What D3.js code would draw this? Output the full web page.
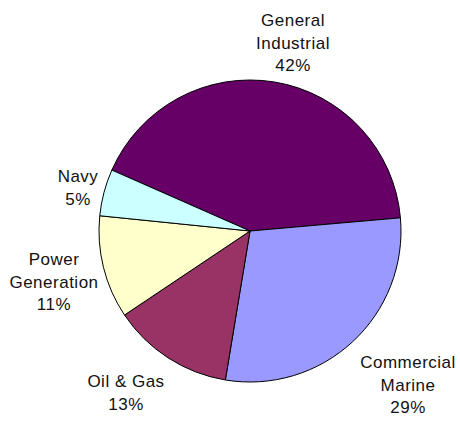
<!DOCTYPE html>
<html>
<head>
<meta charset="utf-8">
<script src="https://cdn.jsdelivr.net/npm/d3@7"></script>
<style>
  html, body { margin: 0; padding: 0; background: #ffffff; }
  svg { display: block; }
  text { font-family: "Liberation Sans", Arial, sans-serif; font-size: 17px; fill: #111; letter-spacing: 0.5px; }
</style>
</head>
<body>
<svg id="chart" width="460" height="423"></svg>
<script>
// Market share by segment, in clockwise order
const categories = ["General Industrial", "Commercial Marine", "Oil & Gas", "Power Generation", "Navy"];
const shares = [42, 29, 13, 11, 5];
const colors = ["#660066", "#9999ff", "#993366", "#ffffcc", "#ccffff"];
// Label lines (name broken over lines, then percentage)
const labelLines = [
  ["General", "Industrial"],
  ["Commercial", "Marine"],
  ["Oil & Gas"],
  ["Power", "Generation"],
  ["Navy"]
];

const svg = d3.select("#chart");
const cx = 250, cy = 231, radius = 151;

const startAngle = -66.2 * Math.PI / 180;
const pie = d3.pie().sort(null).value(d => d)
  .startAngle(startAngle).endAngle(startAngle + 2 * Math.PI);
const arcs = pie(shares);

const arc = d3.arc().innerRadius(0).outerRadius(radius);

const g = svg.append("g").attr("transform", `translate(${cx},${cy})`);
g.selectAll("path.slice")
  .data(arcs)
  .join("path")
  .attr("class", "slice")
  .attr("d", arc)
  .attr("fill", (d, i) => colors[i])
  .attr("stroke", "#000")
  .attr("stroke-width", 1)
  .attr("stroke-linejoin", "round");

// Label anchors: centre x and first baseline of each label block
const labelAnchor = [[293, 26], [408, 368], [126, 387], [54, 265], [78, 182]];
const lineH = 22.5;

arcs.forEach((d, i) => {
  const lines = labelLines[i].concat([d3.format(".0f")(d.value) + "%"]);
  const [x, y] = labelAnchor[i];
  const t = svg.append("text")
    .attr("text-anchor", "middle")
    .attr("x", x)
    .attr("y", y);
  lines.forEach((ln, k) => {
    t.append("tspan")
      .attr("x", x)
      .attr("dy", k === 0 ? 0 : lineH)
      .text(ln);
  });
});
</script>
</body>
</html>
